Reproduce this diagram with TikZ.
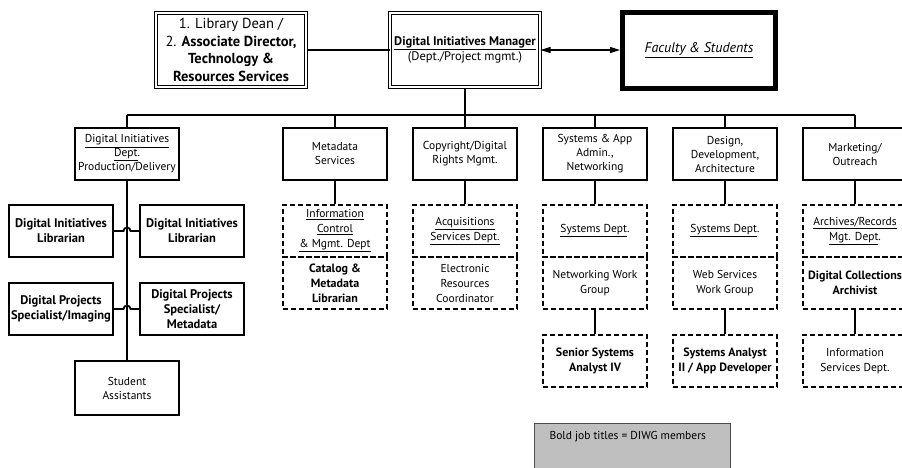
\documentclass[tikz,border=0pt]{standalone}
\usepackage{fontspec}
\setmainfont{PT Sans}
\usetikzlibrary{arrows.meta}

\begin{document}
\begin{tikzpicture}[x=1pt,y=-1pt,
  link/.style={line width=1.8pt},
  headbox/.style={draw,double,double distance=1.6pt,line width=1pt,minimum width=150,minimum height=74,align=center,inner sep=1pt},
  unitbox/.style={draw,line width=1.8pt,minimum width=104,minimum height=52,align=center,inner sep=1pt,font=\fontsize{11.5}{14}\selectfont},
  dashbox/.style={draw,dashed,dash pattern=on 5pt off 3pt,line width=1.8pt,minimum width=104,minimum height=52,align=center,inner sep=1pt,font=\fontsize{11.5}{15}\selectfont},
  jobbox/.style={unitbox,font=\fontsize{12.5}{15}\selectfont\bfseries},
  bold/.style={font=\fontsize{12}{15}\selectfont\bfseries}]
\useasboundingbox (0,0) rectangle (902,467);

% top row
\node[headbox,font=\fontsize{14.5}{17.5}\selectfont] (dean) at (231,50) {1. Library Dean /\\2. \textbf{Associate Director,}\\\textbf{Technology \&}\\\textbf{Resources Services}};
\node[headbox,font=\fontsize{12.5}{15.5}\selectfont] (mgr) at (465,50) {\underline{\textbf{Digital Initiatives Manager}}\\(Dept./Project mgmt.)};
\node[draw,line width=5pt,minimum width=153,minimum height=76,font=\fontsize{14}{17}\itshape] (fac) at (699,50) {\underline{Faculty \& Students}};
\draw[line width=1.4pt] (dean.east) -- (mgr.west);
\draw[line width=1.3pt,{Triangle[length=10pt,width=6pt]}-{Triangle[length=10pt,width=6pt]}] (mgr.east) -- (fac.west);

% units
\node[unitbox] (dept) at (127,154) {\underline{Digital Initiatives}\\\underline{Dept}.\\Production/Delivery};
\node[unitbox] (meta) at (335,154) {Metadata\\Services};
\node[unitbox] (copy) at (465,154) {Copyright/Digital\\Rights Mgmt.};
\node[unitbox] (sys) at (595,154) {Systems \& App\\Admin.,\\Networking};
\node[unitbox] (dsgn) at (725,154) {Design,\\Development,\\Architecture};
\node[unitbox] (mktg) at (855,154) {Marketing/\\Outreach};

\coordinate (busL) at (127,115);
\coordinate (busR) at (855,115);
\draw[link] (busL) -- (busR);
\draw[link] (mgr.south) -- (mgr.south |- busL);
\foreach \n in {dept,meta,copy,sys,dsgn,mktg}
  \draw[link] (\n.north) -- (\n.north |- busL);

% left column
\node[jobbox] (dil) at (61,231) {Digital Initiatives\\Librarian};
\node[jobbox] (dir) at (192,231) {Digital Initiatives\\Librarian};
\node[jobbox] (dpi) at (61,309) {Digital Projects\\Specialist/Imaging};
\node[jobbox] (dpm) at (192,309) {Digital Projects\\Specialist/\\Metadata};
\node[unitbox,minimum height=54] (stud) at (127,388) {Student\\Assistants};
\draw[link] (dept.south) -- (stud.north);
\draw[link] (dil.east) -- ([xshift=-3.5pt]dil.east -| dept.south) arc[start angle=180,end angle=0,radius=3.5pt] -- (dir.west);
\draw[link] (dpi.east) -- ([xshift=-3.5pt]dpi.east -| dept.south) arc[start angle=180,end angle=0,radius=3.5pt] -- (dpm.west);

% departments
\node[dashbox] (info) at (335,231) {\underline{Information}\\\underline{Control}\\\underline{\& Mgmt. Dept}};
\node[dashbox] (acq) at (465,231) {\underline{Acquisitions}\\\underline{Services Dept.}};
\node[dashbox] (sysd) at (595,231) {\underline{Systems Dept}.};
\node[dashbox] (sysw) at (725,231) {\underline{Systems Dept}.};
\node[dashbox] (arch) at (855,231) {\underline{Archives/Records}\\\underline{Mgt. Dept}.};

\node[dashbox,bold] (cat) at (335,283) {Catalog \&\\Metadata\\Librarian};
\node[dashbox] (erc) at (465,283) {Electronic\\Resources\\Coordinator};
\node[dashbox] (net) at (595,283) {Networking Work\\Group};
\node[dashbox] (web) at (725,283) {Web Services\\Work Group};
\node[dashbox,bold] (dca) at (855,283) {Digital Collections\\Archivist};

\node[dashbox,bold] (ssa) at (595,361) {Senior Systems\\Analyst IV};
\node[dashbox,bold] (sad) at (725,361) {Systems Analyst\\II / App Developer};
\node[dashbox] (isd) at (855,361) {Information\\Services Dept.};

\foreach \a/\b in {meta/info,copy/acq,sys/sysd,dsgn/sysw,mktg/arch,net/ssa,web/sad,dca/isd}
  \draw[link] (\a.south) -- (\b.north);

% key
\draw[draw=black!70,line width=1pt,fill=black!25] (534,423) rectangle (730,480);
\node[anchor=west,font=\fontsize{11.5}{14}\selectfont] (key) at (546,437) {Bold job titles = DIWG members};
\end{tikzpicture}
\end{document}
